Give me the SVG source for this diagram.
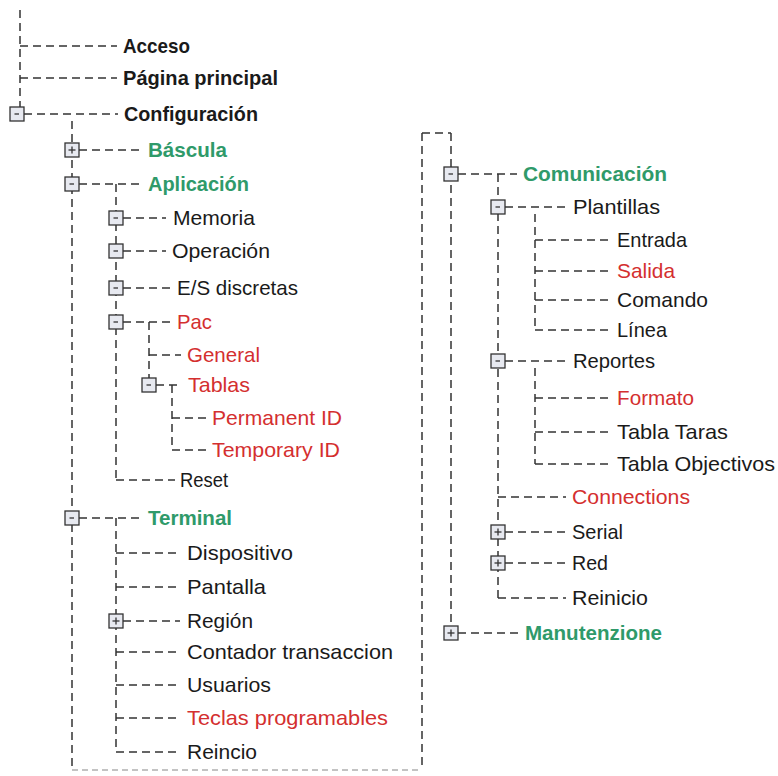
<svg xmlns="http://www.w3.org/2000/svg" xmlns:xlink="http://www.w3.org/1999/xlink" width="778" height="776" viewBox="0 0 778 776">
<style>
  .c line{stroke:#333;stroke-width:1.5;stroke-dasharray:8 5;fill:none}
  .c line.f{stroke:#888;stroke-width:1.2;stroke-dasharray:6 4}
  text{font-family:"Liberation Sans",Arial,sans-serif;font-size:21px;fill:#1a1a1a}
  .b{font-weight:bold}
  .g{fill:#2f9a6a;font-weight:bold}
  .r{fill:#d42f2f}
  .bx{fill:#e7e9f0;stroke:#333;stroke-width:1.3}
  .sg{stroke:#333;stroke-width:1.3}
</style>
<defs>
  <g id="mn"><rect class="bx" x="-7" y="-7" width="14" height="14"/><line class="sg" x1="-2.5" y1="0" x2="2" y2="0"/></g>
  <g id="pl"><rect class="bx" x="-7" y="-7" width="14" height="14"/><line class="sg" x1="-3.5" y1="0" x2="3.5" y2="0"/><line class="sg" x1="0" y1="-3.5" x2="0" y2="3.5"/></g>
</defs>
<rect width="778" height="776" fill="#fff"/>
<g id="connectors" class="c">
  <line x1="20" y1="10" x2="20" y2="107"/>
  <line x1="20" y1="46" x2="117" y2="46"/>
  <line x1="20" y1="78" x2="117" y2="78"/>
  <line x1="24" y1="114" x2="118" y2="114"/>
  <line x1="72" y1="121" x2="72" y2="770"/>
  <line x1="79" y1="150" x2="141" y2="150"/>
  <line x1="79" y1="184" x2="141" y2="184"/>
  <line x1="116" y1="184" x2="116" y2="480"/>
  <line x1="123" y1="218" x2="166" y2="218"/>
  <line x1="123" y1="251" x2="166" y2="251"/>
  <line x1="123" y1="288" x2="171" y2="288"/>
  <line x1="123" y1="322" x2="171" y2="322"/>
  <line x1="149" y1="322" x2="149" y2="378"/>
  <line x1="149" y1="355" x2="181" y2="355"/>
  <line x1="156" y1="385" x2="182" y2="385"/>
  <line x1="172" y1="385" x2="172" y2="450"/>
  <line x1="172" y1="418" x2="206" y2="418"/>
  <line x1="172" y1="450" x2="206" y2="450"/>
  <line x1="116" y1="480" x2="175" y2="480"/>
  <line x1="79" y1="518" x2="141" y2="518"/>
  <line x1="116" y1="518" x2="116" y2="752"/>
  <line x1="116" y1="553" x2="180" y2="553"/>
  <line x1="116" y1="587" x2="180" y2="587"/>
  <line x1="123" y1="621" x2="180" y2="621"/>
  <line x1="116" y1="652" x2="180" y2="652"/>
  <line x1="116" y1="685" x2="180" y2="685"/>
  <line x1="116" y1="718" x2="180" y2="718"/>
  <line x1="116" y1="752" x2="180" y2="752"/>
  <line class="f" x1="72" y1="770" x2="422" y2="770"/>
  <line x1="422" y1="133" x2="422" y2="770"/>
  <line x1="422" y1="133" x2="451" y2="133"/>
  <line x1="451" y1="133" x2="451" y2="626"/>
  <line x1="458" y1="174" x2="517" y2="174"/>
  <line x1="498" y1="174" x2="498" y2="598"/>
  <line x1="505" y1="207" x2="566" y2="207"/>
  <line x1="535" y1="214" x2="535" y2="330"/>
  <line x1="535" y1="240" x2="611" y2="240"/>
  <line x1="535" y1="271" x2="611" y2="271"/>
  <line x1="535" y1="300" x2="611" y2="300"/>
  <line x1="535" y1="330" x2="611" y2="330"/>
  <line x1="505" y1="361" x2="566" y2="361"/>
  <line x1="535" y1="368" x2="535" y2="464"/>
  <line x1="535" y1="398" x2="611" y2="398"/>
  <line x1="535" y1="432" x2="611" y2="432"/>
  <line x1="535" y1="464" x2="611" y2="464"/>
  <line x1="498" y1="497" x2="566" y2="497"/>
  <line x1="505" y1="532" x2="566" y2="532"/>
  <line x1="505" y1="563" x2="566" y2="563"/>
  <line x1="498" y1="598" x2="566" y2="598"/>
  <line x1="458" y1="633" x2="519" y2="633"/>
</g>
<g id="n-acceso"><text class="b" x="123" y="53" textLength="67" lengthAdjust="spacingAndGlyphs">Acceso</text></g>
<g id="n-pagina"><text class="b" x="123" y="85" textLength="155" lengthAdjust="spacingAndGlyphs">Página principal</text></g>
<g id="n-config"><use xlink:href="#mn" x="17" y="114"/><text class="b" x="124" y="121" textLength="134" lengthAdjust="spacingAndGlyphs">Configuración</text></g>
<g id="n-bascula"><use xlink:href="#pl" x="72" y="150"/><text class="g" x="148" y="157" textLength="79" lengthAdjust="spacingAndGlyphs">Báscula</text></g>
<g id="n-aplicacion"><use xlink:href="#mn" x="72" y="184"/><text class="g" x="148" y="191" textLength="101" lengthAdjust="spacingAndGlyphs">Aplicación</text></g>
<g id="n-memoria"><use xlink:href="#mn" x="116" y="218"/><text x="173" y="225" textLength="82" lengthAdjust="spacingAndGlyphs">Memoria</text></g>
<g id="n-operacion"><use xlink:href="#mn" x="116" y="251"/><text x="172" y="258" textLength="98" lengthAdjust="spacingAndGlyphs">Operación</text></g>
<g id="n-es"><use xlink:href="#mn" x="116" y="288"/><text x="177" y="295" textLength="121" lengthAdjust="spacingAndGlyphs">E/S discretas</text></g>
<g id="n-pac"><use xlink:href="#mn" x="116" y="322"/><text class="r" x="177" y="329" textLength="35" lengthAdjust="spacingAndGlyphs">Pac</text></g>
<g id="n-general"><text class="r" x="187" y="362" textLength="73" lengthAdjust="spacingAndGlyphs">General</text></g>
<g id="n-tablas"><use xlink:href="#mn" x="149" y="385"/><text class="r" x="188" y="392" textLength="62" lengthAdjust="spacingAndGlyphs">Tablas</text></g>
<g id="n-permanent"><text class="r" x="212" y="425" textLength="130" lengthAdjust="spacingAndGlyphs">Permanent ID</text></g>
<g id="n-temporary"><text class="r" x="212" y="457" textLength="128" lengthAdjust="spacingAndGlyphs">Temporary ID</text></g>
<g id="n-reset"><text x="180" y="487" textLength="48" lengthAdjust="spacingAndGlyphs">Reset</text></g>
<g id="n-terminal"><use xlink:href="#mn" x="72" y="518"/><text class="g" x="148" y="525" textLength="84" lengthAdjust="spacingAndGlyphs">Terminal</text></g>
<g id="n-dispositivo"><text x="187" y="560" textLength="106" lengthAdjust="spacingAndGlyphs">Dispositivo</text></g>
<g id="n-pantalla"><text x="187" y="594" textLength="79" lengthAdjust="spacingAndGlyphs">Pantalla</text></g>
<g id="n-region"><use xlink:href="#pl" x="116" y="621"/><text x="187" y="628" textLength="66" lengthAdjust="spacingAndGlyphs">Región</text></g>
<g id="n-contador"><text x="187" y="659" textLength="206" lengthAdjust="spacingAndGlyphs">Contador transaccion</text></g>
<g id="n-usuarios"><text x="187" y="692" textLength="84" lengthAdjust="spacingAndGlyphs">Usuarios</text></g>
<g id="n-teclas"><text class="r" x="187" y="725" textLength="201" lengthAdjust="spacingAndGlyphs">Teclas programables</text></g>
<g id="n-reincio"><text x="187" y="759" textLength="70" lengthAdjust="spacingAndGlyphs">Reincio</text></g>
<g id="n-comunicacion"><use xlink:href="#mn" x="451" y="174"/><text class="g" x="523" y="181" textLength="144" lengthAdjust="spacingAndGlyphs">Comunicación</text></g>
<g id="n-plantillas"><use xlink:href="#mn" x="498" y="207"/><text x="573" y="214" textLength="87" lengthAdjust="spacingAndGlyphs">Plantillas</text></g>
<g id="n-entrada"><text x="617" y="247" textLength="70" lengthAdjust="spacingAndGlyphs">Entrada</text></g>
<g id="n-salida"><text class="r" x="617" y="278" textLength="58" lengthAdjust="spacingAndGlyphs">Salida</text></g>
<g id="n-comando"><text x="617" y="307" textLength="91" lengthAdjust="spacingAndGlyphs">Comando</text></g>
<g id="n-linea"><text x="617" y="337" textLength="50" lengthAdjust="spacingAndGlyphs">Línea</text></g>
<g id="n-reportes"><use xlink:href="#mn" x="498" y="361"/><text x="573" y="368" textLength="82" lengthAdjust="spacingAndGlyphs">Reportes</text></g>
<g id="n-formato"><text class="r" x="617" y="405" textLength="77" lengthAdjust="spacingAndGlyphs">Formato</text></g>
<g id="n-taras"><text x="617" y="439" textLength="111" lengthAdjust="spacingAndGlyphs">Tabla Taras</text></g>
<g id="n-objectivos"><text x="617" y="471" textLength="158" lengthAdjust="spacingAndGlyphs">Tabla Objectivos</text></g>
<g id="n-connections"><text class="r" x="572" y="504" textLength="118" lengthAdjust="spacingAndGlyphs">Connections</text></g>
<g id="n-serial"><use xlink:href="#pl" x="498" y="532"/><text x="572" y="539" textLength="51" lengthAdjust="spacingAndGlyphs">Serial</text></g>
<g id="n-red"><use xlink:href="#pl" x="498" y="563"/><text x="572" y="570" textLength="36" lengthAdjust="spacingAndGlyphs">Red</text></g>
<g id="n-reinicio"><text x="572" y="605" textLength="76" lengthAdjust="spacingAndGlyphs">Reinicio</text></g>
<g id="n-manutenzione"><use xlink:href="#pl" x="451" y="633"/><text class="g" x="525" y="640" textLength="137" lengthAdjust="spacingAndGlyphs">Manutenzione</text></g>
</svg>
